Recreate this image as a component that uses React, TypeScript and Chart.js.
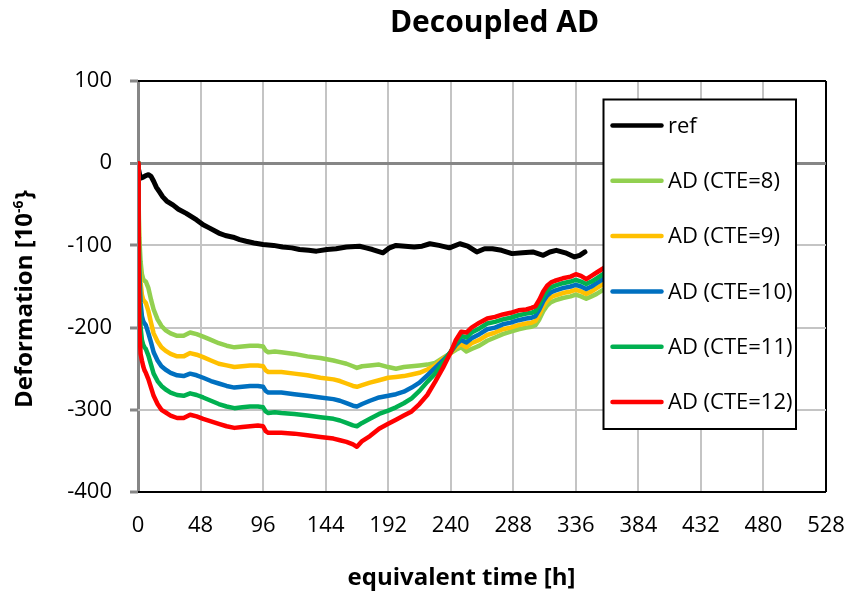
import { useEffect, useRef } from 'react';
import { Chart, registerables } from 'chart.js';

Chart.register(...registerables);

// ---- data -------------------------------------------------------------

const seriesLabels = ['ref', 'AD (CTE=8)', 'AD (CTE=9)', 'AD (CTE=10)', 'AD (CTE=11)', 'AD (CTE=12)'];

// reference specimen (hours / 10^-6)
const refTime = [
  0.5, 1.5, 2.5, 4, 6, 8, 10, 12, 14, 16.5,
  19, 22, 27, 31, 37, 45, 50, 55, 62, 67,
  73, 78, 83, 89, 96, 104, 111, 118, 124, 131,
  137, 145, 152, 160, 170, 175, 180, 188, 193, 198,
  205, 212, 218, 224, 231, 239, 247, 253, 260, 266,
  272, 279, 287, 295, 303, 311, 316, 321, 328, 335,
  339, 343,
];
const refValues = [
  -8, -16, -18, -17, -15, -14, -16, -22, -29, -35,
  -41, -46, -51, -56, -61, -69, -75, -79, -85, -88,
  -90, -93, -95, -97, -99, -100, -102, -103, -105, -106,
  -107, -105, -104, -102, -101, -103, -105, -109, -103, -100,
  -101, -102, -101, -98, -100, -103, -98, -101, -108, -104,
  -104, -106, -110, -109, -108, -112, -108, -106, -109, -114,
  -112, -108,
];

// AD specimens share one time base (hours)
const adTime = [
  0, 0.5, 1, 2, 3, 4, 5, 6, 8, 10,
  12, 15, 18, 21, 25, 30, 35, 40, 45, 50,
  56, 62, 68, 74, 80, 86, 92, 96, 98, 100,
  105, 110, 120, 130, 140, 150, 155, 160, 165, 168,
  172, 178, 185, 192, 198, 204, 210, 216, 222, 228,
  234, 240, 244, 248, 252, 256, 262, 268, 274, 280,
  286, 292, 298, 302, 305, 308, 311, 314, 317, 320,
  326, 332, 336, 340, 344, 348, 352, 356, 360,
];
const cte8 = [
  0, -50, -90, -120, -135, -141, -143, -144, -152, -166,
  -178, -190, -198, -203, -207, -210, -210, -206, -208, -211,
  -215, -219, -222, -224, -223, -222, -222, -223, -228, -230,
  -229, -230, -232, -235, -237, -240, -242, -244, -247, -249,
  -247, -246, -245, -248, -250, -248, -247, -246, -245, -243,
  -237, -231, -227, -224, -229, -226, -222, -216, -212, -208,
  -205, -202, -200, -199, -197, -190, -180, -173, -169, -167,
  -164, -162, -160, -162, -165, -162, -159, -155, -151,
];
const cte9 = [
  0, -60, -110, -145, -160, -166, -168, -170, -180, -194,
  -207, -217, -224, -228, -232, -235, -235, -231, -233, -236,
  -240, -244, -246, -248, -247, -246, -246, -247, -252, -254,
  -254, -254, -256, -258, -261, -263, -265, -268, -271, -272,
  -270, -267, -264, -261, -260, -259, -257, -255, -251, -246,
  -238, -231, -224, -220, -224, -219, -215, -209, -206, -202,
  -200, -197, -195, -194, -192, -184, -174, -167, -163, -161,
  -158, -156, -154, -156, -159, -156, -152, -148, -144,
];
const cte10 = [
  0, -75, -130, -170, -186, -192, -195, -197, -207, -218,
  -230, -240, -247, -251, -255, -258, -259, -256, -258, -261,
  -265, -268, -271, -273, -272, -271, -271, -272, -277, -279,
  -279, -279, -281, -283, -285, -287, -289, -292, -295, -296,
  -293, -289, -285, -283, -281, -278, -273, -267, -258, -249,
  -240, -230, -221, -215, -218, -213, -208, -202, -200, -196,
  -194, -191, -189, -188, -186, -178, -168, -161, -157, -155,
  -152, -150, -148, -150, -153, -150, -146, -142, -138,
];
const cte11 = [
  0, -90, -160, -200, -215, -221, -224, -226, -234, -245,
  -256, -265, -271, -275, -279, -282, -283, -280, -282, -285,
  -289, -293, -296, -298, -297, -296, -296, -297, -302, -304,
  -303, -304, -305, -307, -309, -311, -313, -316, -319, -320,
  -316, -311, -305, -301, -297, -292, -286, -277, -266, -256,
  -243, -229, -219, -210, -212, -206, -201, -195, -193, -190,
  -188, -185, -183, -182, -180, -172, -162, -155, -151, -149,
  -146, -144, -142, -144, -147, -144, -140, -136, -132,
];
const cte12 = [
  0, -110, -200, -232, -240, -247, -252, -255, -263, -273,
  -283, -293, -300, -303, -307, -310, -310, -306, -308, -311,
  -314, -317, -320, -322, -321, -320, -319, -320, -326, -328,
  -328, -328, -329, -331, -333, -335, -337, -339, -342, -345,
  -338, -332, -323, -317, -312, -307, -302, -293, -282, -266,
  -249, -230, -215, -205, -206, -200, -194, -189, -187, -184,
  -182, -179, -178, -176, -174, -166, -156, -149, -145, -143,
  -140, -138, -135, -137, -141, -137, -133, -129, -125,
];

// ---- styling ------------------------------------------------------------

const seriesColors = ['#000000', '#92D050', '#FFC000', '#0070C0', '#00B050', '#FF0000'];
const FONT = "'Open Sans', 'DejaVu Sans', sans-serif";
const AXIS_GRAY = '#868686';
const GRID_GRAY = '#C4C4C4';

const toPoints = (xs: number[], ys: number[]) => xs.map((x, i) => ({ x, y: ys[i] }));

// Title, axis titles and the boxed legend drawn onto the chart canvas
const decorPlugin = {
  id: 'decor',
  afterDatasetsDraw(chart: any) {
    const { ctx, chartArea } = chart;
    const left = chartArea.left + 465.5;
    const top = chartArea.top + 18.5;
    const w = 192.5;
    const h = 329.5;
    ctx.save();
    ctx.fillStyle = '#ffffff';
    ctx.fillRect(left, top, w, h);
    ctx.strokeStyle = '#000000';
    ctx.lineWidth = 2;
    ctx.strokeRect(left, top, w, h);

    const firstY = top + 26;
    const step = 55.3;
    ctx.font = `22px ${FONT}`;
    ctx.textBaseline = 'middle';
    ctx.textAlign = 'left';
    seriesLabels.forEach((label, i) => {
      const y = firstY + i * step;
      ctx.strokeStyle = seriesColors[i];
      ctx.lineWidth = 4.5;
      ctx.lineCap = 'round';
      ctx.beginPath();
      ctx.moveTo(left + 9, y);
      ctx.lineTo(left + 58, y);
      ctx.stroke();
      ctx.fillStyle = '#000000';
      ctx.fillText(label, left + 64.5, y + 1);
    });
    ctx.restore();
  },
  afterDraw(chart: any) {
    const { ctx } = chart;
    ctx.save();
    ctx.fillStyle = '#000000';
    ctx.textBaseline = 'alphabetic';

    // chart title
    ctx.font = `bold 30px ${FONT}`;
    ctx.textAlign = 'center';
    ctx.fillText('Decoupled AD', 494.5, 32);

    // x axis title
    ctx.font = `bold 24px ${FONT}`;
    ctx.fillText('equivalent time [h]', 461.5, 585);

    // y axis title with superscript exponent
    const main = 'Deformation [10';
    const sup = '-6';
    const tail = '}';
    ctx.translate(31.5, 299);
    ctx.rotate(-Math.PI / 2);
    ctx.textAlign = 'left';
    ctx.font = `bold 24px ${FONT}`;
    const wMain = ctx.measureText(main).width;
    const wTail = ctx.measureText(tail).width;
    ctx.font = `bold 14px ${FONT}`;
    const wSup = ctx.measureText(sup).width;
    let x = -(wMain + wSup + wTail + 1) / 2;
    ctx.font = `bold 24px ${FONT}`;
    ctx.fillText(main, x, 0);
    x += wMain;
    ctx.font = `bold 14px ${FONT}`;
    ctx.fillText(sup, x, -9);
    x += wSup + 1;
    ctx.font = `bold 24px ${FONT}`;
    ctx.fillText(tail, x, 0);
    ctx.restore();
  },
};

export default function App() {
  const canvasRef = useRef<HTMLCanvasElement>(null);

  useEffect(() => {
    document.body.style.margin = '0';
    const canvas = canvasRef.current;
    if (!canvas) return;

    const adSeries = [cte8, cte9, cte10, cte11, cte12];
    const datasets = [
      {
        label: seriesLabels[0],
        data: toPoints(refTime, refValues),
        borderColor: seriesColors[0],
        borderWidth: 5,
        order: seriesLabels.length,
      },
      ...adSeries.map((values, i) => ({
        label: seriesLabels[i + 1],
        data: toPoints(adTime, values),
        borderColor: seriesColors[i + 1],
        borderWidth: 4.5,
        order: adSeries.length - 1 - i,
      })),
    ];

    const chart = new Chart(canvas, {
      type: 'line',
      data: { datasets },
      options: {
        responsive: false,
        animation: false,
        devicePixelRatio: 1,
        layout: { padding: { top: 81, right: 24, bottom: 0, left: 0 } },
        elements: {
          point: { radius: 0, hoverRadius: 0 },
          line: { tension: 0, borderJoinStyle: 'round', borderCapStyle: 'round', fill: false },
        },
        plugins: {
          legend: { display: false },
          tooltip: { enabled: false },
          title: { display: false },
        },
        scales: {
          x: {
            type: 'linear',
            min: 0,
            max: 528,
            ticks: {
              stepSize: 48,
              autoSkip: false,
              maxRotation: 0,
              color: '#000000',
              padding: 21,
              font: { family: FONT, size: 22 },
            },
            grid: {
              drawTicks: false,
              color: (c: any) => (c.tick.value === 0 ? AXIS_GRAY : c.tick.value === 528 ? '#000000' : GRID_GRAY),
              lineWidth: (c: any) => (c.tick.value === 0 ? 3 : 2),
            },
            border: { display: false },
            afterFit: (scale: any) => {
              scale.height = 102;
              scale.paddingLeft = 10;
              scale.paddingRight = 20;
            },
          },
          y: {
            type: 'linear',
            min: -400,
            max: 100,
            ticks: {
              stepSize: 100,
              color: '#000000',
              padding: 18,
              font: { family: FONT, size: 22 },
            },
            grid: {
              tickLength: 8,
              tickColor: AXIS_GRAY,
              tickWidth: 3,
              color: (c: any) =>
                c.tick.value === 0 ? AXIS_GRAY : c.tick.value === 100 || c.tick.value === -400 ? '#000000' : GRID_GRAY,
              lineWidth: (c: any) => (c.tick.value === 0 ? 3 : 2),
            },
            border: { display: false },
            afterFit: (scale: any) => {
              scale.width = 138;
            },
          },
        },
      },
      plugins: [decorPlugin],
    });

    return () => chart.destroy();
  }, []);

  return <canvas ref={canvasRef} width={850} height={594} style={{ display: 'block' }} />;
}
